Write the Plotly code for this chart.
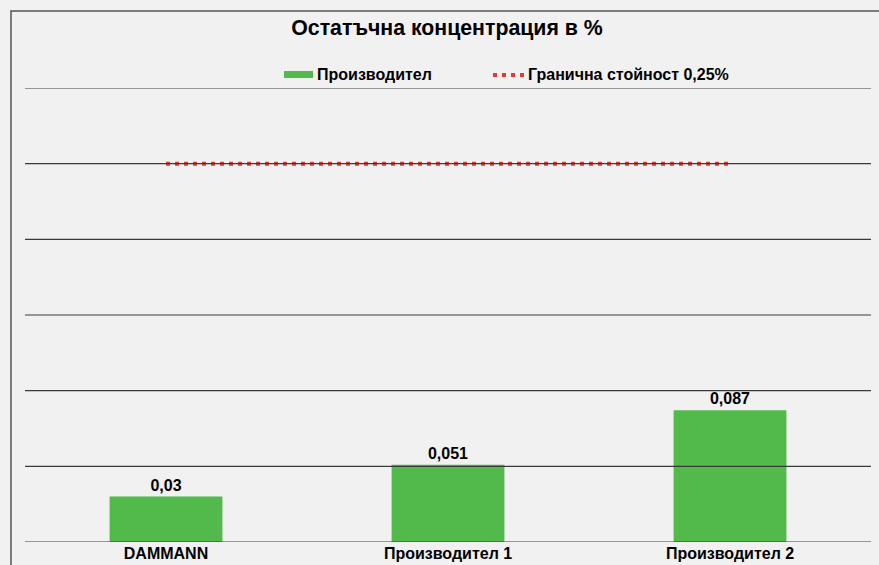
import plotly.graph_objects as go

categories = ["DAMMANN", "Производител 1", "Производител 2"]
values = [0.03, 0.051, 0.087]
value_labels = ["0,03", "0,051", "0,087"]
limit_values = [0.25, 0.25, 0.25]
grid_ticks = [0, 0.05, 0.1, 0.15, 0.2, 0.25, 0.3]

series_name = "Производител"
limit_name = "Гранична стойност 0,25%"
title_text = "Остатъчна концентрация в %"

W, H = 879, 565
ml, mr, mt, mb = 25, 8, 88, 23
pw = W - ml - mr
ph = H - mt - mb

def px_x(x):
    return (x - ml) / pw

def px_y(y):
    return (H - mb - y) / ph

font_family = "Liberation Sans, Arial, sans-serif"
green = "#52b94b"
red = "#e23a35"
bg = "#f1f1f1"

fig = go.Figure()
fig.add_trace(go.Bar(
    x=categories, y=values, name=series_name,
    marker=dict(color=green, line=dict(width=0)),
    width=0.4,
    text=["<b>" + s + "</b>" for s in value_labels], textposition="outside",
    textfont=dict(family=font_family, size=16, color="black"),
    cliponaxis=False, showlegend=False,
))
fig.add_trace(go.Scatter(
    x=categories, y=limit_values, name=limit_name, mode="lines",
    line=dict(color=red, width=4, dash="4px,5px"),
    showlegend=False,
))

shapes = []
for t in grid_ticks:
    shapes.append(dict(type="line", xref="paper", yref="y", x0=0, x1=1, y0=t, y1=t,
                       line=dict(color="#3a3a3a", width=1.2), layer="above"))
# outer chart frame
shapes.append(dict(type="rect", xref="paper", yref="paper",
                   x0=px_x(11), x1=px_x(W + 20), y0=px_y(H + 20), y1=px_y(11),
                   line=dict(color="#555555", width=1.5), layer="below"))
# manual legend
shapes.append(dict(type="rect", xref="paper", yref="paper",
                   x0=px_x(284), x1=px_x(313), y0=px_y(78), y1=px_y(71),
                   fillcolor=green, line=dict(width=0)))
shapes.append(dict(type="line", xref="paper", yref="paper",
                   x0=px_x(493), x1=px_x(527), y0=px_y(75), y1=px_y(75),
                   line=dict(color=red, width=4, dash="4px,5px")))

annotations = [
    dict(text="<b>" + series_name + "</b>", xref="paper", yref="paper",
         x=px_x(315), y=px_y(74), xanchor="left", yanchor="middle", showarrow=False,
         font=dict(family=font_family, size=16, color="black")),
    dict(text="<b>" + limit_name + "</b>", xref="paper", yref="paper",
         x=px_x(526), y=px_y(74), xanchor="left", yanchor="middle", showarrow=False,
         font=dict(family=font_family, size=16, color="black")),
]

fig.update_layout(
    width=W, height=H,
    margin=dict(l=ml, r=mr, t=mt, b=mb, autoexpand=False),
    paper_bgcolor=bg, plot_bgcolor=bg,
    title=dict(text="<b>" + title_text + "</b>", xref="container", x=447 / W, xanchor="center",
               y=1 - 27.5 / H, yanchor="middle",
               font=dict(family=font_family, size=21.3, color="black")),
    showlegend=False,
    separators=", ",
    shapes=shapes,
    annotations=annotations,
    bargap=0.6,
)
fig.update_xaxes(showgrid=False, showline=False, ticks="", automargin=False,
                 tickfont=dict(family=font_family, size=16, color="black"),
                 tickprefix="<b>", ticksuffix="</b>")
fig.update_yaxes(range=[0, 0.3], showgrid=False, zeroline=False, showticklabels=False,
                 showline=False, ticks="", automargin=False)

fig.write_html("out.html",
               config={"displayModeBar": False},
               post_script="document.body.style.margin='0';document.body.style.overflow='hidden';"
                           "document.documentElement.style.overflow='hidden';")
